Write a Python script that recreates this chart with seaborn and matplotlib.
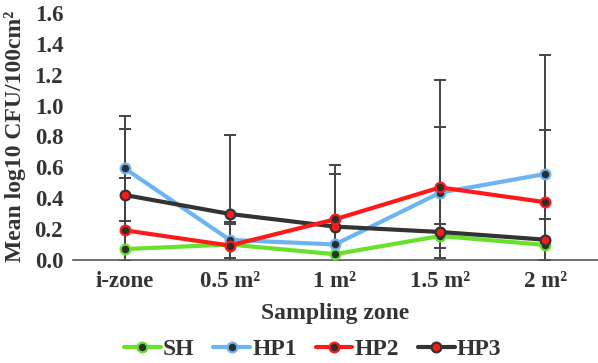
import numpy as np
import pandas as pd
import seaborn as sns
import matplotlib.pyplot as plt

zones = ["i-zone", "0.5 m²", "1 m²", "1.5 m²", "2 m²"]
series = ["SH", "HP1", "HP2", "HP3"]

sh = [0.07, 0.10, 0.037, 0.155, 0.097]
hp1 = [0.594, 0.13, 0.10, 0.436, 0.557]
hp2 = [0.192, 0.093, 0.263, 0.47, 0.374]
hp3 = [0.421, 0.298, 0.216, 0.181, 0.131]

# symmetric SD read from the caps (lower ends are cut off by the axis)
sh_err = [0.0, 0.0, 0.0, 0.079, 0.0]
hp1_err = [0.339, 0.118, 0.0, 0.423, 0.773]
hp2_err = [0.337, 0.14, 0.354, 0.698, 0.468]
hp3_err = [0.427, 0.512, 0.341, 0.0, 0.132]

line_colors = {"SH": "#66e22b", "HP1": "#6cb4f4", "HP2": "#ff1a1a", "HP3": "#333333"}
face_colors = {"SH": "#2e2e2e", "HP1": "#2e2e2e", "HP2": "#2e2e2e", "HP3": "#ff1a1a"}
layer = {"SH": 3, "HP1": 4, "HP2": 6, "HP3": 5}
TXT = "#333333"

df = pd.DataFrame({
    "zone": zones * 4,
    "pos": list(range(5)) * 4,
    "series": np.repeat(series, 5),
    "mean": sh + hp1 + hp2 + hp3,
    "err": sh_err + hp1_err + hp2_err + hp3_err,
})

sns.set_style("white")
plt.rcParams["font.family"] = ["Liberation Serif", "DejaVu Serif"]
plt.rcParams["font.weight"] = "bold"

fig = plt.figure(figsize=(5.98, 3.63), dpi=100)
ax = fig.add_axes([0.122, 0.284, 0.878, 0.68])

for s in series:
    d = df[df["series"] == s]
    ok = d["err"] > 0
    ax.errorbar(d["pos"][ok], d["mean"][ok], yerr=d["err"][ok], fmt="none",
                ecolor="#444444", elinewidth=1.4, capsize=4, capthick=1.4, zorder=2)
    sns.lineplot(data=d, x="pos", y="mean", ax=ax, color=line_colors[s], linewidth=3,
                 marker="o", markersize=7, markerfacecolor=face_colors[s],
                 markeredgecolor=line_colors[s], markeredgewidth=1.6,
                 label=s, zorder=layer[s])

ax.set_xlim(-0.49, 4.5)
ax.set_ylim(0, 1.6)
ax.set_yticks(np.arange(0, 1.61, 0.2))
ax.set_yticklabels([f"{v:.1f}" for v in np.arange(0, 1.61, 0.2)], fontsize=16.5,
                   fontweight="bold", color=TXT)
ax.set_xticks(range(5))
ax.set_xticklabels(zones, fontsize=16.5, fontweight="bold", color=TXT)
ax.tick_params(axis="y", length=0, pad=7)
ax.tick_params(axis="x", length=0, pad=8)
ax.set_xlabel("Sampling zone", fontsize=17, fontweight="bold", color=TXT, labelpad=8)
ax.set_ylabel("Mean log10 CFU/100cm²", fontsize=17, fontweight="bold", color=TXT, labelpad=6)
for side in ["left", "top", "right"]:
    ax.spines[side].set_visible(False)
ax.spines["bottom"].set_color("#555555")
ax.spines["bottom"].set_linewidth(1.2)

handles, labels = ax.get_legend_handles_labels()
ax.get_legend().remove()
fig.legend(handles, labels, loc="center", bbox_to_anchor=(0.523, 0.037), ncol=4,
           frameon=False, prop={"size": 17, "weight": "bold"}, handlelength=1.55,
           handletextpad=0.1, columnspacing=0.8, labelcolor=TXT)

fig.savefig("out.png", dpi=100)
